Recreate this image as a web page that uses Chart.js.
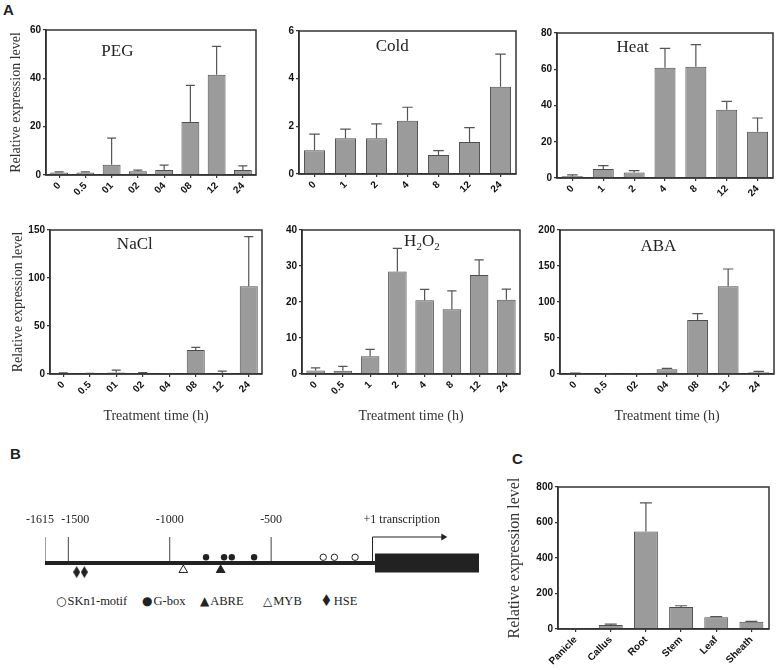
<!DOCTYPE html>
<html>
<head>
<meta charset="utf-8">
<script src="https://cdn.jsdelivr.net/npm/chart.js@4.4.0/dist/chart.umd.min.js"></script>
<style>
    body { margin: 0; background: #fff; }
    #fig { position: relative; width: 778px; height: 670px; overflow: hidden; }
    #fig canvas { position: absolute; }
    .tag { position: absolute; font: bold 15px "Liberation Sans", Arial, sans-serif; color: #222; line-height: 1; }
    .lg { position: absolute; top: 594px; font: 12.5px "Liberation Serif", serif; color: #222; white-space: nowrap; }
    .lg b { font: 12px "DejaVu Sans", sans-serif; margin-right: 1px; }
    .lg b.big { display: inline-block; transform: scale(1.1, 1.35); margin-right: 2px; }
</style>
</head>
<body>
<div id="fig">
    <div class="tag" style="left:3px;top:2px">A</div>
    <div class="tag" style="left:10px;top:446px">B</div>
    <div class="tag" style="left:512px;top:451px">C</div>
    <div class="lg" style="left:56px"><b>○</b>SKn1-motif</div>
    <div class="lg" style="left:142px"><b>●</b>G-box</div>
    <div class="lg" style="left:200px"><b>▲</b>ABRE</div>
    <div class="lg" style="left:263px"><b>△</b>MYB</div>
    <div class="lg" style="left:321px"><b class="big">♦</b>HSE</div>
</div>
<script>
// Relative expression data (mean and SD)

// PEG
const pegTimes = ['0', '0.5', '01', '02', '04', '08', '12', '24'];
const pegLevel = [1.0, 1.0, 4.2, 1.6, 2.1, 21.9, 41.5, 2.1];
const pegSd = [0.3, 0.3, 11.1, 0.4, 2.0, 15.2, 11.7, 1.7];

// Cold
const coldTimes = ['0', '1', '2', '4', '8', '12', '24'];
const coldLevel = [1.0, 1.5, 1.5, 2.23, 0.8, 1.34, 3.66];
const coldSd = [0.67, 0.38, 0.6, 0.57, 0.18, 0.61, 1.37];

// Heat
const heatTimes = ['0', '1', '2', '4', '8', '12', '24'];
const heatLevel = [0.9, 5.0, 3.1, 60.8, 61.4, 37.7, 25.5];
const heatSd = [0.8, 1.8, 1.0, 10.7, 12.2, 4.6, 7.6];

// NaCl
const naclTimes = ['0', '0.5', '01', '02', '04', '08', '12', '24'];
const naclLevel = [1.0, 0.5, 1.5, 1.0, 0.3, 25.0, 0.4, 91.5];
const naclSd = [0.3, 0.2, 2.5, 0.5, 0.1, 2.8, 2.6, 51.5];

// H2O2
const h2o2Times = ['0', '0.5', '1', '2', '4', '8', '12', '24'];
const h2o2Level = [1.0, 0.9, 4.9, 28.5, 20.5, 18.0, 27.5, 20.6];
const h2o2Sd = [0.7, 1.2, 1.95, 6.4, 3.0, 5.1, 4.2, 3.0];

// ABA
const abaTimes = ['0', '0.5', '02', '04', '08', '12', '24'];
const abaLevel = [0.8, 0.5, 0.3, 6.5, 75.0, 121.8, 2.3];
const abaSd = [0.3, 0.2, 0.1, 1.4, 8.8, 24.0, 1.4];

// Tissues (panel C)
const tissues = ['Panicle', 'Callus', 'Root', 'Stem', 'Leaf', 'Sheath'];
const tissueLevel = [1, 22.5, 550, 124, 66, 41];
const tissueSd = [0.3, 5.5, 161, 7, 3.5, 2];

// Promoter map (panel B), positions in bp relative to +1
const promoterTicks = [-1615, -1500, -1000, -500];
const promoterSpan = [-1615, 12];
const codingSpan = [12, 525];
const arrowEnd = 343;
const sknMotif = [-243, -188, -86];
const gBox = [-821, -732, -694, -584];
const abre = [-749];
const myb = [-933];
const hse = [-1459, -1421];

const fig = document.getElementById('fig');
const serif = '"Liberation Serif", "Times New Roman", serif';
const sans = '"Liberation Sans", Arial, sans-serif';

function addCanvas(left, top, width, height) {
    const c = document.createElement('canvas');
    c.width = width;
    c.height = height;
    c.style.left = left + 'px';
    c.style.top = top + 'px';
    fig.appendChild(c);
    return c;
}

/**
 * Box round the plot area
 */
const frame = {
    id: 'frame',
    afterDraw(chart) {
        const a = chart.chartArea, ctx = chart.ctx;
        ctx.save();
        ctx.strokeStyle = '#333';
        ctx.lineWidth = 1.5;
        ctx.strokeRect(a.left, a.top, a.right - a.left, a.bottom - a.top);
        ctx.restore();
    }
};

/**
 * One-sided error bars (mean + SD)
 */
const errorBars = {
    id: 'errorBars',
    afterDatasetsDraw(chart) {
        const ctx = chart.ctx, y = chart.scales.y;
        chart.data.datasets.forEach((ds, i) => {
            chart.getDatasetMeta(i).data.forEach((bar, j) => {
                const top = y.getPixelForValue(ds.data[j] + ds.sd[j]);
                const half = bar.width / 4;
                ctx.save();
                ctx.strokeStyle = '#555';
                ctx.lineWidth = 1.2;
                ctx.beginPath();
                ctx.moveTo(bar.x, bar.y);
                ctx.lineTo(bar.x, top);
                ctx.moveTo(bar.x - half, top);
                ctx.lineTo(bar.x + half, top);
                ctx.stroke();
                ctx.restore();
            });
        });
    }
};

/**
 * Treatment name inside the plot, with subscripts
 */
const panelName = {
    id: 'panelName',
    afterDraw(chart, args, o) {
        if (!o.parts) return;
        const ctx = chart.ctx, a = chart.chartArea;
        const big = o.size + 'px ' + serif;
        const small = Math.round(o.size * 0.62) + 'px ' + serif;
        ctx.save();
        ctx.fillStyle = '#222';
        ctx.textBaseline = 'middle';
        let total = 0;
        o.parts.forEach(p => { ctx.font = p[1] ? small : big; total += ctx.measureText(p[0]).width; });
        let x = a.left + (a.right - a.left) * o.x - total / 2;
        const y = a.top + o.dy;
        o.parts.forEach(p => {
            ctx.font = p[1] ? small : big;
            ctx.fillText(p[0], x, p[1] ? y + o.size * 0.32 : y);
            x += ctx.measureText(p[0]).width;
        });
        ctx.restore();
    }
};

function drawExpressionPanel(p) {
    const [l, t, r, b] = p.area;
    const padTop = 12, padRight = 6;
    const left = l - p.yW, top = t - padTop;
    const canvas = addCanvas(left, top, r - left + padRight, b - top + p.xH);
    const tickFont = { family: sans, weight: 'bold', size: 10 };

    new Chart(canvas, {
        type: 'bar',
        data: {
            labels: p.labels,
            datasets: [{
                data: p.values,
                sd: p.sd,
                backgroundColor: '#9b9b9b',
                borderColor: '#4d4d4d',
                borderWidth: 1,
                barPercentage: 0.68,
                categoryPercentage: 1
            }]
        },
        options: {
            responsive: false,
            animation: false,
            layout: { padding: { top: padTop, right: padRight, left: 0, bottom: 0 } },
            plugins: {
                legend: { display: false },
                tooltip: { enabled: false },
                panelName: { parts: p.name, x: p.nameAt[0], dy: p.nameAt[1], size: 17 }
            },
            scales: {
                x: {
                    grid: { display: true, drawOnChartArea: false, offset: false, tickLength: 3, color: '#333', lineWidth: 1.2 },
                    border: { color: '#333', width: 1.5 },
                    ticks: { color: '#111', font: tickFont, minRotation: 45, maxRotation: 45, padding: 2, autoSkip: false },
                    title: {
                        display: !!p.xTitle,
                        text: p.xTitle || '',
                        color: '#333',
                        font: { family: serif, size: 14 },
                        padding: { top: 0, bottom: 5 }
                    },
                    afterFit: s => { s.height = p.xH; }
                },
                y: {
                    min: 0,
                    max: p.max,
                    grid: { display: true, drawOnChartArea: false, tickLength: 3, color: '#333', lineWidth: 1.2 },
                    border: { color: '#333', width: 1.5 },
                    ticks: { stepSize: p.step, color: '#111', font: tickFont, padding: 2 },
                    title: {
                        display: !!p.yTitle,
                        text: 'Relative expression level',
                        color: '#333',
                        font: { family: serif, size: p.yTitleSize || 14 },
                        padding: { top: p.yTitlePad || 8, bottom: 0 }
                    },
                    afterFit: s => { s.width = p.yW; }
                }
            }
        },
        plugins: [frame, errorBars, panelName]
    });
}

// Panel A, top row
drawExpressionPanel({ area: [46, 30, 256, 175], yW: 46, xH: 40, labels: pegTimes, values: pegLevel, sd: pegSd,
    max: 60, step: 20, name: [['PEG']], nameAt: [0.34, 22], yTitle: true });
drawExpressionPanel({ area: [299, 31, 516, 174], yW: 24, xH: 40, labels: coldTimes, values: coldLevel, sd: coldSd,
    max: 6, step: 2, name: [['Cold']], nameAt: [0.43, 16] });
drawExpressionPanel({ area: [557, 33, 773, 178], yW: 30, xH: 40, labels: heatTimes, values: heatLevel, sd: heatSd,
    max: 80, step: 20, name: [['Heat']], nameAt: [0.35, 15] });

// Panel A, bottom row
drawExpressionPanel({ area: [50, 230, 262, 374], yW: 50, xH: 56, labels: naclTimes, values: naclLevel, sd: naclSd,
    max: 150, step: 50, name: [['NaCl']], nameAt: [0.40, 15], yTitle: true, yTitlePad: 10, xTitle: 'Treatment time (h)' });
drawExpressionPanel({ area: [302, 230, 520, 374], yW: 30, xH: 56, labels: h2o2Times, values: h2o2Level, sd: h2o2Sd,
    max: 40, step: 10, name: [['H'], ['2', true], ['O'], ['2', true]], nameAt: [0.55, 12], xTitle: 'Treatment time (h)' });
drawExpressionPanel({ area: [560, 230, 774, 374], yW: 40, xH: 56, labels: abaTimes, values: abaLevel, sd: abaSd,
    max: 200, step: 50, name: [['ABA']], nameAt: [0.46, 17], xTitle: 'Treatment time (h)' });

// Panel C
drawExpressionPanel({ area: [558, 487, 769, 629], yW: 58, xH: 41, labels: tissues, values: tissueLevel, sd: tissueSd,
    max: 800, step: 200, name: null, nameAt: [0, 0], yTitle: true, yTitleSize: 16, yTitlePad: 5 });

// Panel B: promoter map on a bp axis
function diamondImage(w, h) {
    const c = document.createElement('canvas');
    c.width = w;
    c.height = h;
    const g = c.getContext('2d');
    g.fillStyle = '#222';
    g.beginPath();
    g.moveTo(w / 2, 0);
    g.lineTo(w, h / 2);
    g.lineTo(w / 2, h);
    g.lineTo(0, h / 2);
    g.closePath();
    g.fill();
    return c;
}

const mapLabels = {
    id: 'mapLabels',
    afterDraw(chart) {
        const ctx = chart.ctx, x = chart.scales.x, y = chart.scales.y;
        const ty = y.getPixelForValue(1.65);
        ctx.save();
        ctx.fillStyle = '#222';
        ctx.font = '12px ' + serif;
        ctx.textBaseline = 'middle';
        promoterTicks.forEach((v, i) => {
            const px = x.getPixelForValue(v);
            if (i === 0) { ctx.textAlign = 'right'; ctx.fillText(String(v), px + 9, ty); }
            else if (i === 1) { ctx.textAlign = 'left'; ctx.fillText(String(v), px - 7, ty); }
            else { ctx.textAlign = 'center'; ctx.fillText(String(v), px, ty); }
        });
        ctx.textAlign = 'left';
        ctx.fillText('+1 transcription', x.getPixelForValue(0) - 9, ty);
        ctx.restore();
    }
};

const tickPoints = [];
promoterTicks.forEach(v => { tickPoints.push({ x: v, y: 0 }, { x: v, y: 1 }, { x: v, y: null }); });

const onLine = v => ({ x: v, y: 0.22 });
const underTri = v => ({ x: v, y: -0.27 });
const underDia = v => ({ x: v, y: -0.35 });

const mapCanvas = addCanvas(20, 491, 469, 134);
new Chart(mapCanvas, {
    type: 'scatter',
    data: {
        datasets: [
            { type: 'line', data: promoterSpan.map(v => ({ x: v, y: 0 })), borderColor: '#222', borderWidth: 4, pointRadius: 0 },
            { type: 'line', data: codingSpan.map(v => ({ x: v, y: 0 })), borderColor: '#222', borderWidth: 19, pointRadius: 0 },
            { type: 'line', data: tickPoints, borderColor: '#444', borderWidth: 1, pointRadius: 0, spanGaps: false },
            { type: 'line', data: [{ x: 0, y: 0 }, { x: 0, y: 1 }, { x: arrowEnd, y: 1 }], borderColor: '#222', borderWidth: 1, pointRadius: 0 },
            { data: [{ x: arrowEnd + 6, y: 1 }], pointStyle: 'triangle', rotation: 90, pointRadius: 4, backgroundColor: '#222', borderColor: '#222', borderWidth: 0 },
            { data: sknMotif.map(onLine), pointStyle: 'circle', pointRadius: 3.2, backgroundColor: '#fff', borderColor: '#222', borderWidth: 1 },
            { data: gBox.map(onLine), pointStyle: 'circle', pointRadius: 3.2, backgroundColor: '#222', borderColor: '#222', borderWidth: 0 },
            { data: abre.map(underTri), pointStyle: 'triangle', pointRadius: 5, backgroundColor: '#222', borderColor: '#222', borderWidth: 1 },
            { data: myb.map(underTri), pointStyle: 'triangle', pointRadius: 5, backgroundColor: '#fff', borderColor: '#222', borderWidth: 1 },
            { data: hse.map(underDia), pointStyle: diamondImage(7, 12) }
        ]
    },
    options: {
        responsive: false,
        animation: false,
        layout: { padding: { left: 25, right: 10, top: 20, bottom: 10 } },
        plugins: { legend: { display: false }, tooltip: { enabled: false } },
        scales: {
            x: { type: 'linear', min: -1615, max: 525, display: false },
            y: { min: -2, max: 2, display: false }
        }
    },
    plugins: [mapLabels]
});
</script>
</body>
</html>
